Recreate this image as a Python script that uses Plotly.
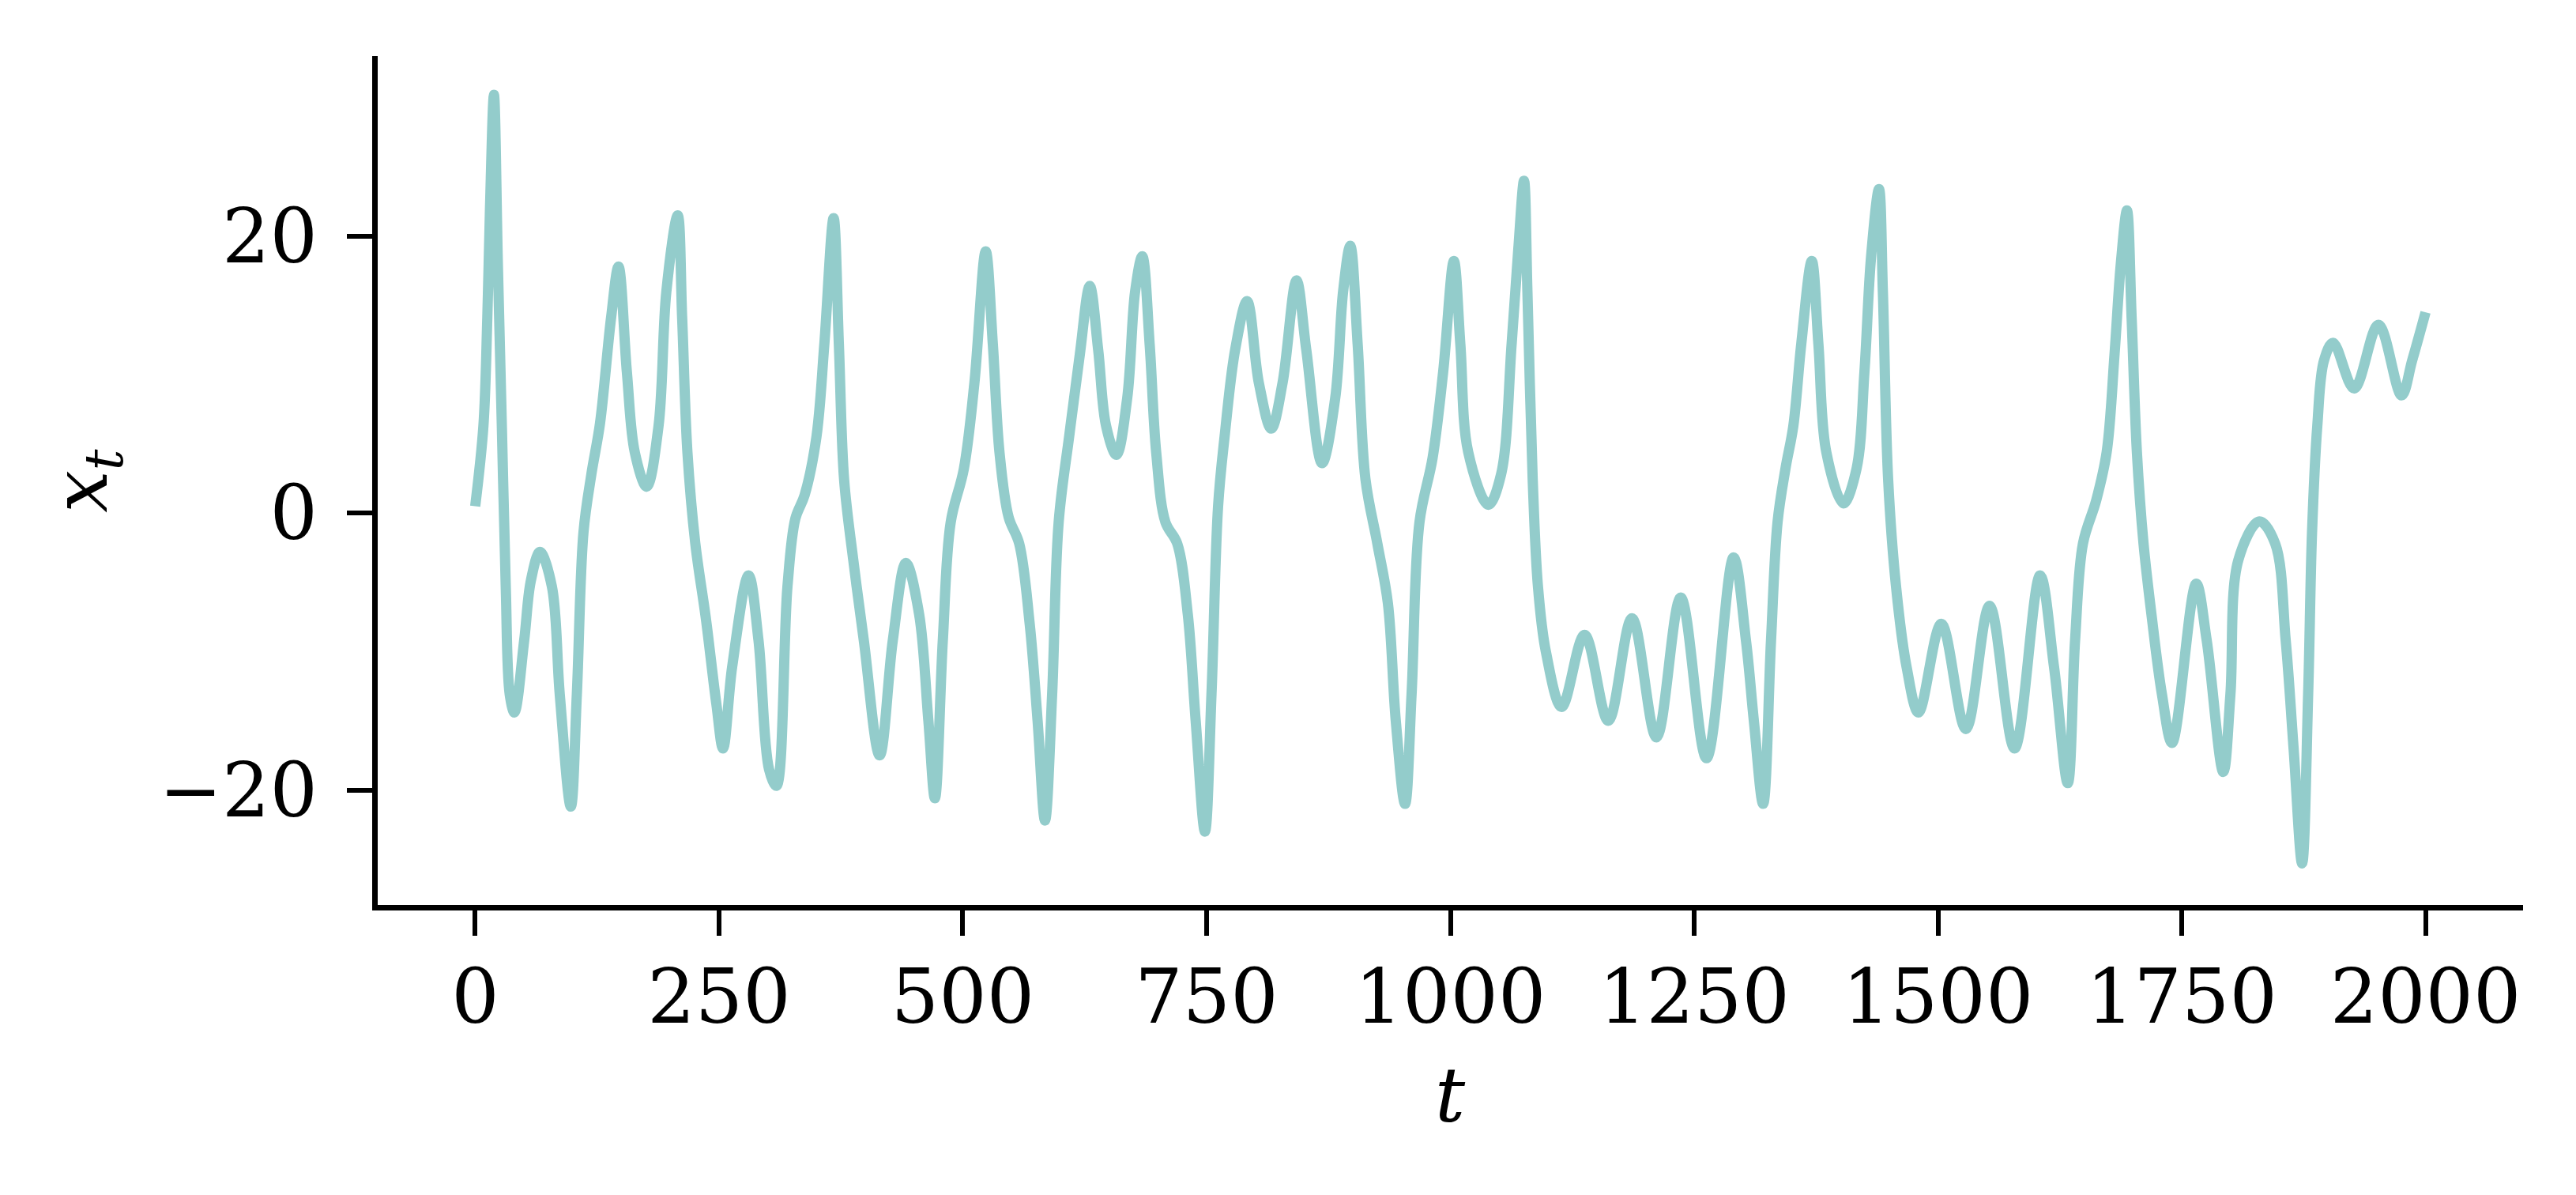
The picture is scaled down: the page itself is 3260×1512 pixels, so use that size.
import plotly.graph_objects as go

# time steps (t) and values (x_t)
t_vals = [0, 8.4, 12.4, 15.1, 19.2, 23.2, 27.3, 31.3, 35.4, 40.2,
          50.2, 57, 66.4, 78.6, 86.7, 98,
          104.2, 111, 119.1, 128, 139.3, 146.9,
          155.5, 163.6, 175.8, 188, 196, 207.6,
          212.2, 217.6, 225.7, 236.5, 247.3, 254.1,
          263.5, 280.3, 290.5, 301.3, 308.9,
          320.2, 328.3, 337.8, 349.9, 358, 367.5,
          372.9, 378.3, 387.7, 398.5, 414.7,
          428.2, 441.7, 455.2, 464.7, 471.4,
          479.5, 487.6, 501.1, 511.9, 523.5,
          530.8, 537.6, 547, 557.8, 568.6, 576.7, 584.3,
          591.6, 598.3, 609.1, 619.9, 630.2,
          638.8, 646.9, 657.5, 668.6, 676.7, 684,
          691.6, 698.3, 707.8, 719.9, 730.7, 738.8, 748.3,
          755, 761.8, 768.5, 779.3, 791.5,
          803.6, 816.3, 827.9, 842.2, 852.2, 868.4,
          881.9, 890, 897.3, 904.9, 912.9, 925.1, 935.9, 944, 953.5,
          960.2, 968.3, 981.8, 992.6, 1003.6,
          1010.2, 1018.3, 1039,
          1052, 1062.8, 1069.6, 1075.5,
          1079, 1084.4, 1089.8, 1097.9, 1114.1,
          1137.6, 1161.9, 1186.2, 1211.3, 1236.2, 1262.6, 1290.4,
          1303.1, 1311.2, 1320.7,
          1328.8, 1335.5, 1343.6, 1351.7, 1359.8, 1370.6,
          1377.4, 1385.5, 1403,
          1416.5, 1424.6, 1431.4, 1439.5,
          1443.5, 1448.9, 1457, 1467.8, 1480,
          1503.4, 1528.6, 1552.9, 1578.5, 1604.7,
          1619, 1633.1,
          1640.6, 1648.7, 1662.2, 1673, 1681.1, 1687.5, 1693.8,
          1698.6, 1704, 1710.8, 1718.9, 1729.7, 1740,
          1764.8, 1775.6, 1792.6,
          1799.9, 1808, 1829.6, 1845.8, 1856.6, 1864.7, 1873.4,
          1879.6, 1883.6, 1889, 1895.8, 1905.2,
          1926.8, 1951.7, 1975.4, 1986.2, 2000]
x_vals = [0.5, 6.3, 14.1, 21.85, 30.2, 17.97, 6.3, -5.3, -13.1, -14.4,
          -9.2, -4.9, -2.8, -5.3, -13.1, -21.2,
          -13.1, -1.4, 2.8, 6.5, 14.1, 17.8,
          10.2, 4.4, 1.9, 6.3, 16.0, 21.5,
          14.1, 4.4, -2.2, -7.6, -13.8, -17.0,
          -11.1, -4.5, -9.2, -18.5, -19.7,
          -5.3, -0.4, 1.3, 5.5, 12.2, 21.3,
          12.2, 2.4, -3.4, -9.2, -17.5,
          -9.2, -3.6, -7.3, -15.0, -20.6,
          -9.2, -0.66, 3.2, 9.4, 18.9,
          12.2, 4.4, -0.3, -2.2, -8.0, -15.0, -22.2,
          -13.1, -0.66, 5.55, 11.4, 16.4,
          11.8, 6.3, 4.2, 8.3, 16.0, 18.55,
          12.2, 4.4, -0.66, -2.2, -7.3, -15.0, -23.0,
          -13.1, 0.5, 5.55, 11.8, 15.3,
          9.4, 6.1, 9.4, 16.8, 11.8, 3.6,
          8.3, 16.0, 19.3, 12.2, 2.45, -2.2, -6.5, -15.0, -21.0,
          -13.1, -0.66, 4.0, 10.2, 18.2,
          12.2, 4.4, 0.6,
          2.8, 12.2, 19.0, 24.0,
          16.0, 2.45, -5.3, -10.0, -14.0,
          -8.8, -15.0, -7.6, -16.2, -6.1, -17.7, -3.2,
          -9.2, -15.0, -21.0,
          -9.2, -0.66, 3.2, 6.3, 12.2, 18.2,
          12.2, 4.4, 0.7,
          3.2, 10.2, 18.5, 23.4,
          16.0, 2.45, -5.3, -11.1, -14.4,
          -8.0, -15.6, -6.7, -17.0, -4.5,
          -11.1, -19.5,
          -9.2, -2.2, 0.9, 4.4, 11.5, 18.0, 21.85,
          14.1, 4.4, -2.2, -7.3, -13.1, -16.6,
          -5.1, -9.2, -18.7,
          -13.1, -3.4, -0.6, -2.2, -9.2, -17.0, -25.3,
          -13.1, -1.4, 6.3, 11.0, 12.3,
          9.0, 13.6, 8.5, 11.0, 14.5]

x_ticks = [0, 250, 500, 750, 1000, 1250, 1500, 1750, 2000]
y_ticks = [-20, 0, 20]

font_family = "DejaVu Serif"
line_color = "#93CCCB"

fig = go.Figure()
fig.add_trace(go.Scatter(
    x=t_vals, y=x_vals, mode="lines",
    line=dict(color=line_color, width=13, shape="spline", smoothing=1.0),
    showlegend=False, hoverinfo="skip",
))

axis_common = dict(
    showgrid=False, zeroline=False, showline=True, linecolor="black", linewidth=7,
    ticks="outside", ticklen=32, tickwidth=6, tickcolor="black",
    tickfont=dict(family=font_family, size=95, color="black"),
    mirror=False,
)
fig.update_xaxes(range=[-100, 2100], tickvals=x_ticks,
                 ticktext=[str(v) for v in x_ticks], ticklabelstandoff=-4,
                 **axis_common)
fig.update_yaxes(range=[-28.3, 33.0], tickvals=y_ticks,
                 ticktext=["\u221220", "0", "20"], ticklabelstandoff=18,
                 **axis_common)

fig.add_annotation(text="<i>t</i>", xref="paper", yref="paper", x=0.5, y=-0.224,
                   showarrow=False, xanchor="center", yanchor="middle",
                   font=dict(family=font_family, size=95, color="black"))
fig.add_annotation(text="<i>x</i><sub><i>t</i></sub>", xref="paper", yref="paper",
                   x=-0.136, y=0.5, showarrow=False, textangle=-90,
                   xanchor="center", yanchor="middle",
                   font=dict(family=font_family, size=95, color="black"))

fig.update_layout(
    width=3260, height=1512,
    margin=dict(l=470, r=75, t=63, b=375),
    plot_bgcolor="white", paper_bgcolor="white",
)

fig.write_html("out.html")
